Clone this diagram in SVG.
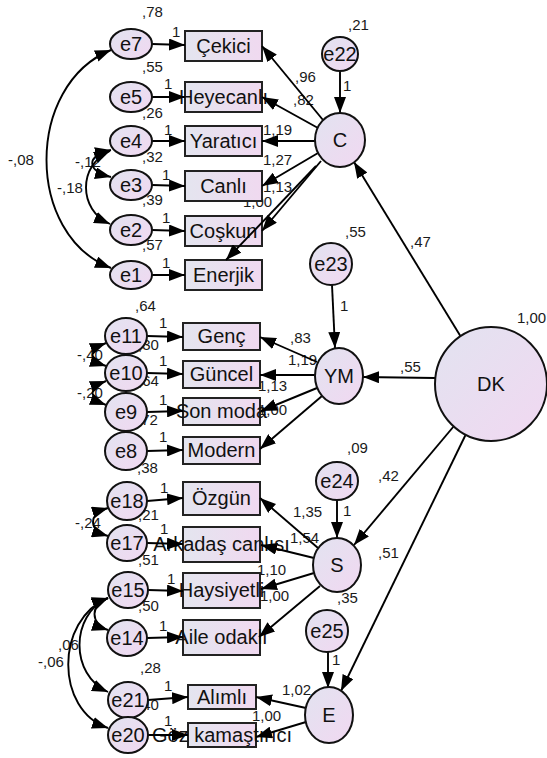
<svg xmlns="http://www.w3.org/2000/svg" width="547" height="758" viewBox="0 0 547 758">
<defs>
  <linearGradient id="ovalFill" x1="0" y1="0" x2="1" y2="1">
    <stop offset="0" stop-color="#e2e3f0"/>
    <stop offset="1" stop-color="#f1d8f1"/>
  </linearGradient>
  <linearGradient id="boxFill" x1="0" y1="0" x2="1" y2="0">
    <stop offset="0" stop-color="#e4e5ef"/>
    <stop offset="1" stop-color="#f0d9f0"/>
  </linearGradient>
  <marker id="head" markerUnits="userSpaceOnUse" markerWidth="16" markerHeight="12" refX="16" refY="6" orient="auto-start-reverse">
    <path d="M0,0 L16,6 L0,12 z" fill="#000"/>
  </marker>
</defs>
<style>
  .lbl { font-family: "Liberation Sans", Arial, sans-serif; font-size: 15px; fill: #1a1a1a; }
  .nt { font-family: "Liberation Sans", Arial, sans-serif; font-size: 20px; fill: #111; text-anchor: middle; }
  .box { fill: url(#boxFill); stroke: #222; stroke-width: 2; }
  .oval { fill: url(#ovalFill); stroke: #111; stroke-width: 2; }
  .path { fill: none; stroke: #000; stroke-width: 1.9; marker-end: url(#head); }
  .cov { fill: none; stroke: #000; stroke-width: 1.9; marker-start: url(#head); marker-end: url(#head); }
</style>
<rect width="547" height="758" fill="#fff"/>

<!-- parameter estimates -->
<g id="estimates">
  <text class="lbl" x="142" y="17">,78</text>
  <text class="lbl" x="142" y="72">,55</text>
  <text class="lbl" x="142" y="118">,26</text>
  <text class="lbl" x="142" y="162">,32</text>
  <text class="lbl" x="142" y="205">,39</text>
  <text class="lbl" x="142" y="250">,57</text>
  <text class="lbl" x="172" y="37">1</text>
  <text class="lbl" x="164" y="89">1</text>
  <text class="lbl" x="164" y="135">1</text>
  <text class="lbl" x="162" y="180">1</text>
  <text class="lbl" x="162" y="223">1</text>
  <text class="lbl" x="162" y="268">1</text>
  <text class="lbl" x="8" y="165">-,08</text>
  <text class="lbl" x="57" y="193">-,18</text>
  <text class="lbl" x="75" y="167">-,12</text>
  <text class="lbl" x="295" y="82">,96</text>
  <text class="lbl" x="293" y="105">,82</text>
  <text class="lbl" x="263" y="135">1,19</text>
  <text class="lbl" x="263" y="165">1,27</text>
  <text class="lbl" x="263" y="192">1,13</text>
  <text class="lbl" x="243" y="207">1,00</text>
  <text class="lbl" x="348" y="30">,21</text>
  <text class="lbl" x="343" y="91">1</text>
  <text class="lbl" x="410" y="247">,47</text>

  <text class="lbl" x="345" y="237">,55</text>
  <text class="lbl" x="340" y="311">1</text>
  <text class="lbl" x="290" y="343">,83</text>
  <text class="lbl" x="288" y="365">1,19</text>
  <text class="lbl" x="258" y="391">1,13</text>
  <text class="lbl" x="258" y="415">1,00</text>
  <text class="lbl" x="400" y="372">,55</text>
  <text class="lbl" x="135" y="311">,64</text>
  <text class="lbl" x="138" y="350">,30</text>
  <text class="lbl" x="138" y="386">,64</text>
  <text class="lbl" x="137" y="425">,72</text>
  <text class="lbl" x="159" y="328">1</text>
  <text class="lbl" x="159" y="366">1</text>
  <text class="lbl" x="159" y="405">1</text>
  <text class="lbl" x="159" y="442">1</text>
  <text class="lbl" x="77" y="360">-,40</text>
  <text class="lbl" x="77" y="398">-,20</text>

  <text class="lbl" x="517" y="323">1,00</text>

  <text class="lbl" x="347" y="453">,09</text>
  <text class="lbl" x="343" y="516">1</text>
  <text class="lbl" x="378" y="481">,42</text>
  <text class="lbl" x="378" y="558">,51</text>
  <text class="lbl" x="293" y="517">1,35</text>
  <text class="lbl" x="290" y="543">1,54</text>
  <text class="lbl" x="257" y="575">1,10</text>
  <text class="lbl" x="260" y="601">1,00</text>
  <text class="lbl" x="337" y="603">,35</text>
  <text class="lbl" x="137" y="473">,38</text>
  <text class="lbl" x="138" y="520">,21</text>
  <text class="lbl" x="138" y="565">,51</text>
  <text class="lbl" x="138" y="611">,50</text>
  <text class="lbl" x="160" y="493">1</text>
  <text class="lbl" x="160" y="534">1</text>
  <text class="lbl" x="167" y="584">1</text>
  <text class="lbl" x="159" y="631">1</text>
  <text class="lbl" x="75" y="528">-,24</text>

  <text class="lbl" x="332" y="665">1</text>
  <text class="lbl" x="282" y="695">1,02</text>
  <text class="lbl" x="252" y="721">1,00</text>
  <text class="lbl" x="140" y="673">,28</text>
  <text class="lbl" x="138" y="710">,40</text>
  <text class="lbl" x="164" y="691">1</text>
  <text class="lbl" x="164" y="726">1</text>
  <text class="lbl" x="58" y="650">,06</text>
  <text class="lbl" x="38" y="667">-,06</text>
</g>

<!-- observed indicators -->
<g id="cekici"><rect class="box" x="185" y="31" width="77" height="30"/><text class="nt" x="223.5" y="53">Çekici</text></g>
<g id="heyecanli"><rect class="box" x="185" y="82" width="77" height="30"/><text class="nt" x="223.5" y="104">Heyecanlı</text></g>
<g id="yaratici"><rect class="box" x="185" y="126" width="77" height="30"/><text class="nt" x="223.5" y="148">Yaratıcı</text></g>
<g id="canli"><rect class="box" x="185" y="171" width="77" height="30"/><text class="nt" x="223.5" y="193">Canlı</text></g>
<g id="coskun"><rect class="box" x="185" y="216" width="77" height="30"/><text class="nt" x="223.5" y="238">Coşkun</text></g>
<g id="enerjik"><rect class="box" x="185" y="260" width="77" height="30"/><text class="nt" x="223.5" y="282">Enerjik</text></g>

<g id="genc"><rect class="box" x="183" y="323" width="77" height="27"/><text class="nt" x="221.5" y="343">Genç</text></g>
<g id="guncel"><rect class="box" x="183" y="361" width="77" height="27"/><text class="nt" x="221.5" y="381">Güncel</text></g>
<g id="sonmoda"><rect class="box" x="183" y="398" width="77" height="27"/><text class="nt" x="221.5" y="418">Son moda</text></g>
<g id="modern"><rect class="box" x="183" y="437" width="77" height="27"/><text class="nt" x="221.5" y="457">Modern</text></g>

<g id="ozgun"><rect class="box" x="183" y="482" width="77" height="33"/><text class="nt" x="221.5" y="505">Özgün</text></g>
<g id="arkadas"><rect class="box" x="183" y="527" width="77" height="35"/><text class="nt" x="221.5" y="551">Arkadaş canlısı</text></g>
<g id="haysiyetli"><rect class="box" x="183" y="573" width="77" height="35"/><text class="nt" x="221.5" y="597">Haysiyetli</text></g>
<g id="aile"><rect class="box" x="183" y="620" width="77" height="35"/><text class="nt" x="221.5" y="644">Aile odaklı</text></g>

<g id="alimli"><rect class="box" x="188" y="685" width="68" height="24"/><text class="nt" x="222" y="704">Alımlı</text></g>
<g id="goz"><rect class="box" x="188" y="723" width="68" height="24"/><text class="nt" x="222" y="742">Göz kamaştırıcı</text></g>

<!-- regression paths and covariances -->
<g id="connectors">
  <!-- errors to indicators -->
  <line class="path" x1="152" y1="44" x2="185" y2="45"/>
  <line class="path" x1="152" y1="97" x2="185" y2="97"/>
  <line class="path" x1="152" y1="141" x2="185" y2="141"/>
  <line class="path" x1="152" y1="185" x2="185" y2="186"/>
  <line class="path" x1="152" y1="230" x2="185" y2="231"/>
  <line class="path" x1="152" y1="275" x2="185" y2="275"/>
  <line class="path" x1="147" y1="336" x2="183" y2="337"/>
  <line class="path" x1="147" y1="373" x2="183" y2="374"/>
  <line class="path" x1="147" y1="412" x2="183" y2="411"/>
  <line class="path" x1="147" y1="451" x2="183" y2="450"/>
  <line class="path" x1="147" y1="501" x2="183" y2="498"/>
  <line class="path" x1="147" y1="543" x2="183" y2="544"/>
  <line class="path" x1="148" y1="590" x2="183" y2="591"/>
  <line class="path" x1="147" y1="638" x2="183" y2="637"/>
  <line class="path" x1="148" y1="700" x2="188" y2="697"/>
  <line class="path" x1="148" y1="735" x2="188" y2="735"/>

  <!-- C indicators -->
  <line class="path" x1="323" y1="120" x2="262" y2="46"/>
  <line class="path" x1="318" y1="128" x2="262" y2="97"/>
  <line class="path" x1="315" y1="141" x2="262" y2="141"/>
  <line class="path" x1="318" y1="153" x2="262" y2="186"/>
  <line class="path" x1="321" y1="161" x2="262" y2="231"/>
  <line class="path" x1="316" y1="166" x2="226" y2="260"/>
  <!-- YM indicators -->
  <line class="path" x1="317" y1="362" x2="260" y2="337"/>
  <line class="path" x1="315" y1="375" x2="260" y2="375"/>
  <line class="path" x1="317" y1="388" x2="261" y2="411"/>
  <line class="path" x1="322" y1="396" x2="260" y2="449"/>
  <!-- S indicators -->
  <line class="path" x1="318" y1="548" x2="260" y2="498"/>
  <line class="path" x1="314" y1="558" x2="261" y2="545"/>
  <line class="path" x1="314" y1="573" x2="261" y2="589"/>
  <line class="path" x1="320" y1="586" x2="259" y2="637"/>
  <!-- E indicators -->
  <line class="path" x1="306" y1="708" x2="256" y2="697"/>
  <line class="path" x1="306" y1="722" x2="256" y2="737"/>

  <!-- disturbances -->
  <line class="path" x1="340" y1="71" x2="340" y2="113"/>
  <line class="path" x1="332" y1="285" x2="335" y2="348"/>
  <line class="path" x1="337" y1="500" x2="337" y2="538"/>
  <line class="path" x1="328" y1="652" x2="328" y2="688"/>

  <!-- DK structural paths -->
  <line class="path" x1="461" y1="337" x2="354" y2="162"/>
  <line class="path" x1="435" y1="378" x2="363" y2="377"/>
  <line class="path" x1="454" y1="426" x2="354" y2="545"/>
  <line class="path" x1="466" y1="434" x2="341" y2="691"/>

  <!-- error covariances -->
  <path class="cov" d="M111,50 C25,85 25,235 111,268"/>
  <path class="cov" d="M111,150 C86,155 86,171 111,177"/>
  <path class="cov" d="M110,151 C78,165 78,210 110,224"/>
  <path class="cov" d="M106,343 C88,350 88,360 106,366"/>
  <path class="cov" d="M106,381 C88,388 88,398 106,405"/>
  <path class="cov" d="M108,508 C88,514 88,530 108,536"/>
  <path class="cov" d="M108,598 C90,604 90,624 108,630"/>
  <path class="cov" d="M108,598 C70,615 70,675 108,692"/>
  <path class="cov" d="M108,598 C55,620 55,710 108,728"/>
</g>

<!-- error terms -->
<g id="e7"><ellipse class="oval" cx="131" cy="44" rx="21" ry="15"/><text class="nt" x="131" y="51">e7</text></g>
<g id="e5"><ellipse class="oval" cx="131" cy="97" rx="21" ry="15"/><text class="nt" x="131" y="104">e5</text></g>
<g id="e4"><ellipse class="oval" cx="131" cy="141" rx="21" ry="15"/><text class="nt" x="131" y="148">e4</text></g>
<g id="e3"><ellipse class="oval" cx="131" cy="185" rx="21" ry="15"/><text class="nt" x="131" y="192">e3</text></g>
<g id="e2"><ellipse class="oval" cx="131" cy="230" rx="21" ry="15"/><text class="nt" x="131" y="237">e2</text></g>
<g id="e1"><ellipse class="oval" cx="131" cy="275" rx="21" ry="14"/><text class="nt" x="131" y="282">e1</text></g>

<g id="e11"><ellipse class="oval" cx="126" cy="336" rx="21" ry="18"/><text class="nt" x="126" y="343">e11</text></g>
<g id="e10"><ellipse class="oval" cx="126" cy="373" rx="21" ry="18"/><text class="nt" x="126" y="380">e10</text></g>
<g id="e9"><ellipse class="oval" cx="126" cy="412" rx="21" ry="19"/><text class="nt" x="126" y="419">e9</text></g>
<g id="e8"><ellipse class="oval" cx="126" cy="451" rx="21" ry="19"/><text class="nt" x="126" y="458">e8</text></g>

<g id="e18"><ellipse class="oval" cx="127" cy="501" rx="20" ry="19"/><text class="nt" x="127" y="508">e18</text></g>
<g id="e17"><ellipse class="oval" cx="127" cy="543" rx="20" ry="18"/><text class="nt" x="127" y="550">e17</text></g>
<g id="e15"><ellipse class="oval" cx="128" cy="590" rx="20" ry="18"/><text class="nt" x="128" y="597">e15</text></g>
<g id="e14"><ellipse class="oval" cx="127" cy="638" rx="20" ry="18"/><text class="nt" x="127" y="645">e14</text></g>
<g id="e21"><ellipse class="oval" cx="128" cy="700" rx="20" ry="18"/><text class="nt" x="128" y="707">e21</text></g>
<g id="e20"><ellipse class="oval" cx="128" cy="735" rx="20" ry="18"/><text class="nt" x="128" y="742">e20</text></g>

<g id="e22"><ellipse class="oval" cx="340" cy="54" rx="18" ry="17"/><text class="nt" x="340" y="61">e22</text></g>
<g id="e23"><ellipse class="oval" cx="331" cy="264" rx="21" ry="21"/><text class="nt" x="331" y="271">e23</text></g>
<g id="e24"><ellipse class="oval" cx="337" cy="481" rx="21" ry="19"/><text class="nt" x="337" y="488">e24</text></g>
<g id="e25"><ellipse class="oval" cx="327" cy="631" rx="21" ry="21"/><text class="nt" x="327" y="638">e25</text></g>

<!-- latent factors -->
<g id="C"><ellipse class="oval" cx="340" cy="140" rx="25" ry="27"/><text class="nt" x="340" y="147">C</text></g>
<g id="YM"><ellipse class="oval" cx="339" cy="376" rx="24" ry="28"/><text class="nt" x="339" y="383">YM</text></g>
<g id="S"><ellipse class="oval" cx="337" cy="565" rx="24" ry="27"/><text class="nt" x="337" y="572">S</text></g>
<g id="E"><ellipse class="oval" cx="329" cy="715" rx="24" ry="28"/><text class="nt" x="329" y="722">E</text></g>
<g id="DK"><ellipse class="oval" cx="491" cy="384" rx="56" ry="57"/><text class="nt" x="491" y="391">DK</text></g>
</svg>
